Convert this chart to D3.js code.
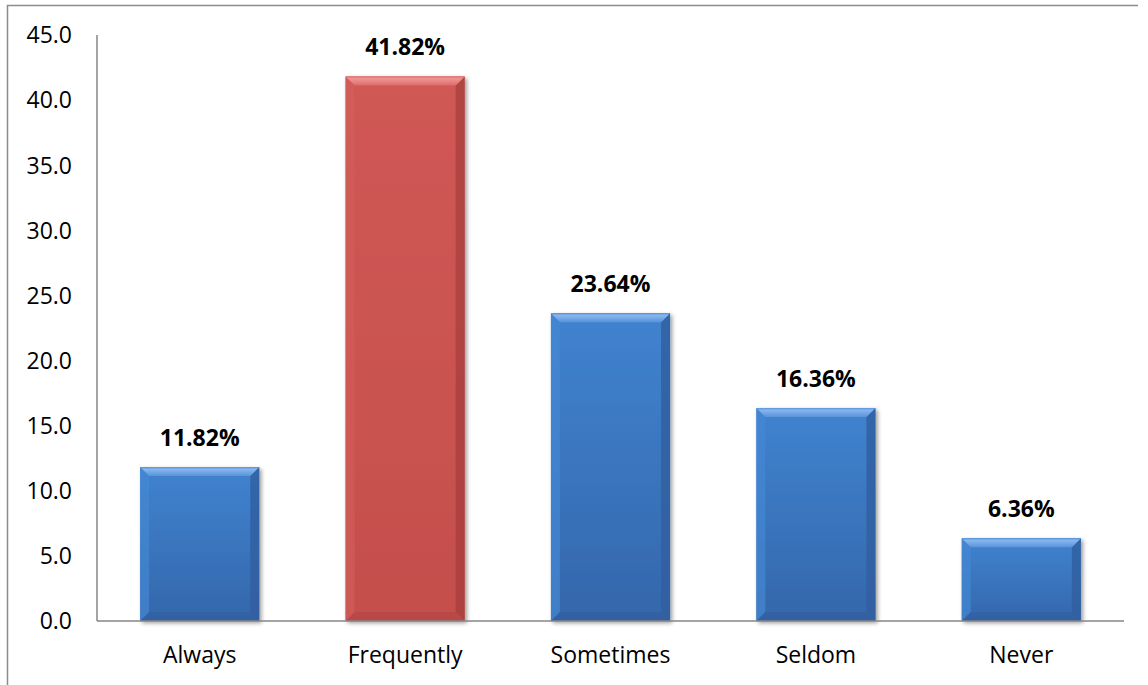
<!DOCTYPE html>
<html>
<head>
<meta charset="utf-8">
<script src="https://cdn.jsdelivr.net/npm/d3@7"></script>
<style>
  html, body { margin: 0; padding: 0; background: #fff; }
  svg { display: block; }
</style>
</head>
<body>
<svg id="chart" width="1148" height="685"></svg>
<script>
// Survey response frequencies (percent)
const categories = ["Always", "Frequently", "Sometimes", "Seldom", "Never"];
const values = [11.82, 41.82, 23.64, 16.36, 6.36];
const valueLabels = ["11.82%", "41.82%", "23.64%", "16.36%", "6.36%"];
const yTicks = [0, 5, 10, 15, 20, 25, 30, 35, 40, 45];
const highlighted = "Frequently";

const W = 1148, H = 685;
const margin = { left: 97, right: 24, top: 35, bottom: 64 };
const font = "'Open Sans', Lato, sans-serif";

const svg = d3.select("#chart");

// chart frame (top and left edges)
svg.append("path")
  .attr("d", `M7.5,${H} V5.5 H1138`)
  .attr("fill", "none")
  .attr("stroke", "#8c8c8c")
  .attr("stroke-width", 1.5);

const x = d3.scaleBand()
  .domain(categories)
  .range([margin.left, W - margin.right])
  .paddingInner(0.42)
  .paddingOuter(0.21);

const y = d3.scaleLinear()
  .domain([0, 45])
  .range([H - margin.bottom, margin.top]);

const defs = svg.append("defs");

const palettes = {
  blue: { body0: "#4083d0", body1: "#3467ab", top: "#86b6ee", topEdge: "#5a93da", left: "#4587d3", right: "#2f5f9f", bottom: "#2e5c98" },
  red:  { body0: "#d05855", body1: "#c44f4c", top: "#f29492", topEdge: "#dc6c69", left: "#d25d5a", right: "#a9403e", bottom: "#aa4341" }
};

Object.entries(palettes).forEach(([k, p]) => {
  const g = defs.append("linearGradient").attr("id", "body-" + k)
    .attr("x1", 0).attr("y1", 0).attr("x2", 0).attr("y2", 1);
  g.append("stop").attr("offset", 0).attr("stop-color", p.body0);
  g.append("stop").attr("offset", 1).attr("stop-color", p.body1);
  const t = defs.append("linearGradient").attr("id", "top-" + k)
    .attr("x1", 0).attr("y1", 0).attr("x2", 0).attr("y2", 1);
  t.append("stop").attr("offset", 0).attr("stop-color", p.topEdge);
  t.append("stop").attr("offset", 0.25).attr("stop-color", p.top);
  t.append("stop").attr("offset", 1).attr("stop-color", p.topEdge);
});

const shadow = defs.append("filter").attr("id", "shadow")
  .attr("x", "-10%").attr("y", "-10%").attr("width", "130%").attr("height", "130%");
shadow.append("feGaussianBlur").attr("in", "SourceAlpha").attr("stdDeviation", 2).attr("result", "b");
shadow.append("feOffset").attr("in", "b").attr("dx", 1.5).attr("dy", 1.5).attr("result", "o");
shadow.append("feComponentTransfer").attr("in", "o").attr("result", "s")
  .append("feFuncA").attr("type", "linear").attr("slope", 0.4);
const merge = shadow.append("feMerge");
merge.append("feMergeNode").attr("in", "s");
merge.append("feMergeNode").attr("in", "SourceGraphic");

// y axis tick labels
svg.append("g").selectAll("text")
  .data(yTicks)
  .join("text")
  .attr("x", margin.left - 25)
  .attr("y", d => y(d))
  .attr("dy", "0.36em")
  .attr("text-anchor", "end")
  .attr("font-family", font)
  .attr("font-size", 23)
  .attr("fill", "#000")
  .text(d => d.toFixed(1));

// bars with bevelled edges
const bev = 9;
const barData = categories.map((c, i) => ({ c, v: values[i], label: valueLabels[i] }));
const bars = svg.append("g").selectAll("g")
  .data(barData)
  .join("g")
  .attr("filter", "url(#shadow)");

bars.each(function(d) {
  const g = d3.select(this);
  const k = d.c === highlighted ? "red" : "blue";
  const p = palettes[k];
  const x0 = x(d.c), x1 = x0 + x.bandwidth();
  const y0 = y(d.v), y1 = y(0);
  const b = Math.min(bev, (y1 - y0) / 2);
  g.append("rect")
    .attr("x", x0).attr("y", y0)
    .attr("width", x1 - x0).attr("height", y1 - y0)
    .attr("fill", `url(#body-${k})`);
  // left bevel
  g.append("path")
    .attr("d", `M${x0},${y0} L${x0 + b},${y0 + b} L${x0 + b},${y1 - b} L${x0},${y1} Z`)
    .attr("fill", p.left).attr("opacity", 0.7);
  // right bevel
  g.append("path")
    .attr("d", `M${x1},${y0} L${x1 - b},${y0 + b} L${x1 - b},${y1 - b} L${x1},${y1} Z`)
    .attr("fill", p.right).attr("opacity", 0.8);
  // bottom bevel
  g.append("path")
    .attr("d", `M${x0},${y1} L${x0 + b},${y1 - b} L${x1 - b},${y1 - b} L${x1},${y1} Z`)
    .attr("fill", p.bottom).attr("opacity", 0.45);
  // top bevel
  g.append("path")
    .attr("d", `M${x0},${y0} L${x1},${y0} L${x1 - b},${y0 + b} L${x0 + b},${y0 + b} Z`)
    .attr("fill", `url(#top-${k})`);
});

// value labels
svg.append("g").selectAll("text")
  .data(barData)
  .join("text")
  .attr("x", d => x(d.c) + x.bandwidth() / 2)
  .attr("y", d => y(d.v) - 21)
  .attr("text-anchor", "middle")
  .attr("font-family", font)
  .attr("font-weight", "bold")
  .attr("font-size", 23)
  .attr("fill", "#000")
  .text(d => d.label);

// axis lines
svg.append("line")
  .attr("x1", margin.left).attr("x2", margin.left)
  .attr("y1", y(45)).attr("y2", y(0))
  .attr("stroke", "#868686").attr("stroke-width", 1.5);
svg.append("line")
  .attr("x1", margin.left).attr("x2", W - margin.right)
  .attr("y1", y(0)).attr("y2", y(0))
  .attr("stroke", "#868686").attr("stroke-width", 1.5);

// category labels
svg.append("g").selectAll("text")
  .data(categories)
  .join("text")
  .attr("x", d => x(d) + x.bandwidth() / 2)
  .attr("y", y(0) + 42)
  .attr("text-anchor", "middle")
  .attr("font-family", font)
  .attr("font-size", 23)
  .attr("fill", "#000")
  .text(d => d);
</script>
</body>
</html>
